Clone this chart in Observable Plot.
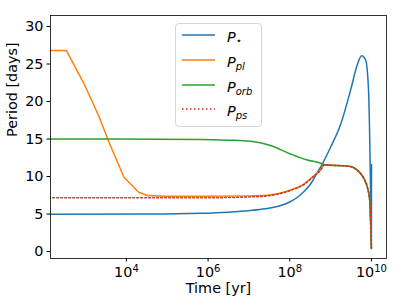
<!DOCTYPE html>
<html><head><meta charset="utf-8">
<script src="https://cdn.jsdelivr.net/npm/d3@7"></script>
<script src="https://cdn.jsdelivr.net/npm/@observablehq/plot@0.6"></script>
<style>
body{margin:0;background:#fff;}
#wrap{position:relative;width:407px;height:305px;font-family:"DejaVu Sans",sans-serif;}
#legend{position:absolute;left:175px;top:23px;width:87px;height:104px;border:1px solid #d6d6d6;border-radius:4px;background:rgba(255,255,255,0.8);box-sizing:border-box;}
#legend svg{position:absolute;left:-1px;top:-1px;overflow:visible;}
</style></head>
<body><div id="wrap"><div id="legend"></div></div>
<script>
// ---- data (time as log10 years, period in days) ----
const starLogT = [2.0, 4.5, 5.82, 6.5, 7.04, 7.4, 7.78, 8.0, 8.19, 8.35, 8.51, 8.65, 8.8, 9.0, 9.25, 9.49, 9.66, 9.76, 9.86, 9.93, 9.96, 9.98, 10.0, 10.003];
const starP    = [4.97, 5.0, 5.1, 5.25, 5.47, 5.7, 6.13, 6.6, 7.24, 8.0, 9.0, 10.3, 11.7, 13.9, 17.0, 21.5, 25.0, 26.1, 25.5, 21.5, 14.8, 8.1, 0.5, 11.6];

// early (straight-segment) part of P_pl, then its smooth later part
const plEarlyLogT = [2.0, 2.53, 2.96, 3.32, 3.57, 3.94, 4.30, 4.51];
const plEarlyP    = [26.8, 26.8, 22.4, 18.1, 14.6, 9.9, 7.9, 7.47];
const plLateLogT = [4.51, 5.0, 6.0, 7.0, 7.45, 8.02, 8.35, 8.59, 8.76, 8.84, 9.0, 9.3, 9.49, 9.62, 9.74, 9.83, 9.90, 9.96, 9.98, 10.0];
const plLateP    = [7.47, 7.38, 7.38, 7.42, 7.5, 8.2, 9.0, 10.1, 10.9, 11.55, 11.5, 11.45, 11.33, 11.0, 10.36, 9.6, 8.6, 6.8, 4.1, 0.4];

const orbLogT = [2.0, 5.82, 6.5, 7.04, 7.53, 8.02, 8.43, 8.76, 8.84, 9.0, 9.3, 9.49, 9.62, 9.74, 9.83, 9.90, 9.96, 9.98, 10.0];
const orbP    = [15.0, 14.95, 14.85, 14.7, 14.13, 13.0, 12.2, 11.77, 11.6, 11.5, 11.45, 11.33, 11.0, 10.36, 9.6, 8.6, 6.8, 4.1, 0.4];

const psLogT = [2.0, 6.0, 6.5, 7.0, 7.45, 8.02, 8.35, 8.59, 8.76, 8.84, 9.0, 9.3, 9.49, 9.62, 9.74, 9.83, 9.90, 9.96, 9.98, 10.0];
const psP    = [7.16, 7.17, 7.2, 7.27, 7.42, 8.15, 8.95, 10.05, 10.9, 11.55, 11.5, 11.45, 11.33, 11.0, 10.36, 9.6, 8.6, 6.8, 4.1, 0.4];

const seriesKeys = ["star", "pl", "orb", "ps"];
const seriesColors = ["#1f77b4", "#ff7f0e", "#2ca02c", "#d62728"];
const seriesSubs = ["⋆", "pl", "orb", "ps"];
const xTicks = [1e4, 1e6, 1e8, 1e10];
const yTicks = [0, 5, 10, 15, 20, 25, 30];
const xLabel = "Time [yr]";
const yLabel = "Period [days]";

const FS = 14.4;
const toRows = (lt, p) => lt.map((v, i) => ({t: Math.pow(10, v), p: p[i]}));
const lineOpts = (color, curve, dash) => ({x: "t", y: "p", stroke: color, strokeWidth: 1.5, curve, clip: true, strokeDasharray: dash});

const lineMarks = [
  Plot.line(toRows(starLogT, starP), lineOpts(seriesColors[0], "monotone-x", null)),
  Plot.line(toRows(plEarlyLogT, plEarlyP), lineOpts(seriesColors[1], "linear", null)),
  Plot.line(toRows(plLateLogT, plLateP), lineOpts(seriesColors[1], "monotone-x", null)),
  Plot.line(toRows(orbLogT, orbP), lineOpts(seriesColors[2], "monotone-x", null)),
  Plot.line(toRows(psLogT, psP), lineOpts(seriesColors[3], "monotone-x", "1.5,2.5"))
];

const chart = Plot.plot({
  width: 407, height: 305,
  marginLeft: 50, marginRight: 21, marginTop: 15, marginBottom: 47,
  style: {fontFamily: "DejaVu Sans, sans-serif", fontSize: FS + "px", color: "#000", background: "#fff"},
  x: {type: "log", domain: [Math.pow(10, 2.14), Math.pow(10, 10.37)]},
  y: {domain: [-0.93, 31.47]},
  marks: [
    ...lineMarks,
    Plot.frame({stroke: "#000", strokeWidth: 0.8}),
    Plot.axisY({ticks: yTicks, tickSize: 3.5, tickPadding: 3.5, fontSize: FS, label: null, stroke: "#000"}),
    Plot.axisX({ticks: xTicks, tickSize: 3.5, tickPadding: 4.5, fontSize: FS, label: null, stroke: "#000",
      tickFormat: d => "10^" + Math.round(Math.log10(d))}),
    Plot.text([yLabel], {frameAnchor: "left", dx: -38, rotate: -90, text: d => d, fontSize: FS, fill: "#000"}),
    Plot.text([xLabel], {frameAnchor: "bottom", dy: 34, text: d => d, fontSize: FS, fill: "#000"})
  ]
});

// superscript exponents on x tick labels
chart.querySelectorAll('[aria-label="x-axis tick label"] text').forEach(t => {
  const s = t.textContent;
  if (s.indexOf("^") < 0) return;
  const [base, exp] = s.split("^");
  t.textContent = "";
  const ns = "http://www.w3.org/2000/svg";
  const a = document.createElementNS(ns, "tspan"); a.textContent = base; t.appendChild(a);
  const b = document.createElementNS(ns, "tspan"); b.textContent = exp;
  b.setAttribute("font-size", "10px"); b.setAttribute("dy", "-5"); t.appendChild(b);
});

const wrap = document.getElementById("wrap");
wrap.insertBefore(chart, wrap.firstChild);

// legend
const lg = d3.select("#legend").append("svg").attr("width", 87).attr("height", 104)
  .style("font-family", "DejaVu Sans, sans-serif");
const rowY = [12, 37, 62, 86];
seriesKeys.forEach((k, i) => {
  lg.append("line").attr("x1", 7).attr("x2", 40).attr("y1", rowY[i]).attr("y2", rowY[i])
    .attr("stroke", seriesColors[i]).attr("stroke-width", 1.5)
    .attr("stroke-dasharray", k === "ps" ? "1.5,2.5" : null);
  const tx = lg.append("text").attr("x", 52).attr("y", rowY[i] + 6.5).attr("font-size", FS).attr("fill", "#000");
  tx.append("tspan").attr("font-style", "italic").text("P");
  tx.append("tspan").attr("font-size", 10).attr("dy", k === "star" ? 2 : 3)
    .attr("dx", k === "star" ? 0 : 0)
    .attr("font-style", k === "star" ? "normal" : "italic").text(seriesSubs[i]);
});
</script>
</body></html>
